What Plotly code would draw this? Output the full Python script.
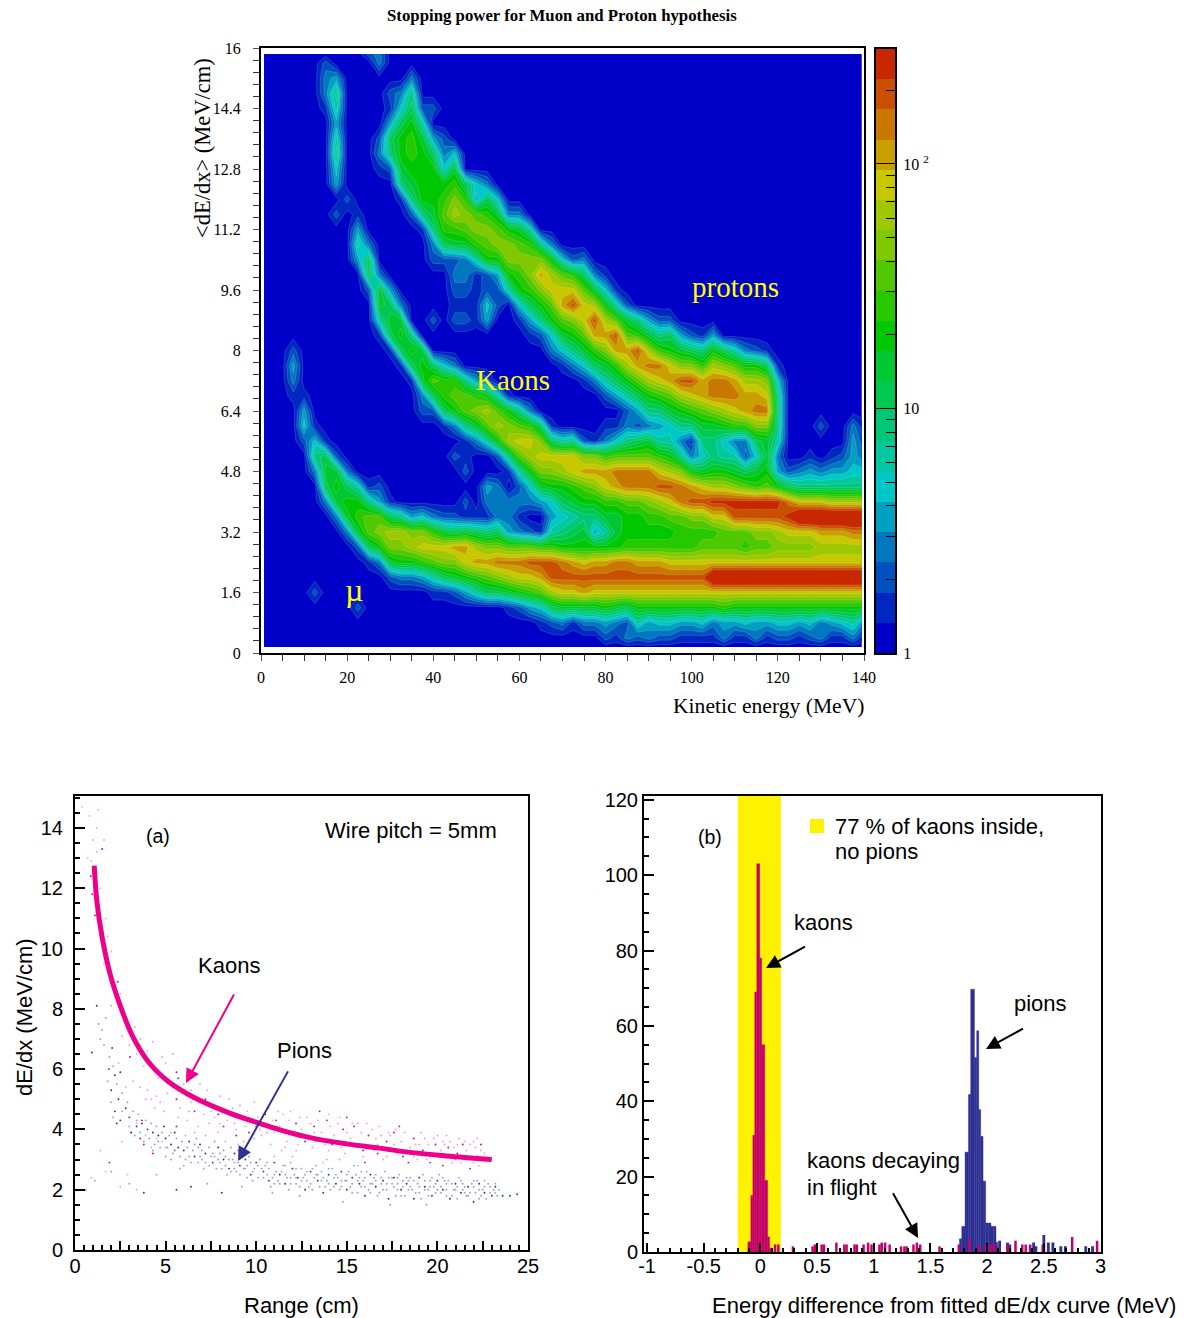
import plotly.graph_objects as go

W, H = 1188, 1318
SERIF = "Liberation Serif"
SANS = "Liberation Sans"

# ---------- top panel: contour bands (0..19+, by column) ----------
DECADE_PER_BAND = 0.1235
x_grid = [0.7] + [2.5 * i for i in range(1, 56)] + [139.5]
y_grid = [0.16] + [0.4 * j for j in range(1, 40)] + [15.84]
band_columns = {
    7.5: [(17, [1, 3, 4, 1]), (20, [2])],
    10: [(14, [2, 5, 4, 1])],
    12.5: [(4, [2]), (12, [3, 7, 5, 1])],
    15: [(10, [3, 8, 9, 8, 1]), (36, [1, 3, 3, 2])],
    17.5: [(9, [3, 9, 10, 9, 2]), (29, [2]), (31, [4, 5, 7, 6, 4, 6, 7, 4])],
    20: [(8, [3, 9, 10, 8, 3]), (30, [2])],
    22.5: [(3, [2]), (7, [2, 9, 11, 10, 6]), (26, [4, 6, 4, 1])],
    25: [(6, [1, 8, 12, 12, 7, 1]), (24, [2, 8, 8, 3]), (40, [2])],
    27.5: [(6, [3, 10, 13, 12, 4, 2]), (21, [1, 6, 9, 9, 3]), (32, [1, 3, 2]), (39, [3, 3])],
    30: [(5, [2, 9, 13, 14, 8, 1]), (20, [1, 8, 9, 8, 4]), (32, [2, 7, 8, 4, 1, 2])],
    32.5: [(5, [3, 10, 13, 14, 7]), (19, [1, 8, 10, 9, 3]), (30, [1, 7, 9, 10, 10, 8, 5, 3])],
    35: [(5, [3, 10, 14, 13, 4]), (18, [1, 8, 10, 7]), (29, [2, 7, 9, 10, 11, 11, 10, 8, 7, 3])],
    37.5: [(5, [4, 11, 15, 13, 5]), (16, [2, 3, 9, 10, 9]), (28, [1, 7, 10, 10, 10, 10, 9, 6, 2])],
    40: [(4, [1, 6, 12, 15, 11, 3]), (16, [2, 8, 12, 8]), (22, [2]), (26, [2, 3, 7, 9, 10, 10, 10, 8, 4]), (36, [2])],
    42.5: [(4, [1, 8, 13, 15, 9, 2]), (15, [1, 8, 11, 11, 5]), (26, [2, 8, 11, 12, 11, 10, 5, 3, 2])],
    45: [(4, [2, 9, 13, 16, 8, 2]), (13, [2, 0, 3, 10, 12, 11, 3]), (22, [2, 1, 2, 3, 2, 9, 11, 14, 13, 11, 9, 5])],
    47.5: [(4, [4, 10, 15, 16, 9, 1, 2]), (12, [2, 1, 1, 7, 12, 12, 7]), (22, [2, 1, 2, 3, 3, 9, 12, 13, 11, 8])],
    50: [(4, [6, 11, 16, 14, 8, 1]), (14, [3, 9, 13, 11, 4]), (22, [1, 1, 1, 1, 6, 11, 13, 12, 4, 5])],
    52.5: [(4, [8, 12, 16, 13, 7, 1, 3, 4]), (14, [6, 12, 14, 10, 2]), (22, [4, 5, 2, 2, 10, 12, 13, 11, 8, 3])],
    55: [(4, [8, 13, 17, 13, 8, 3, 3, 3, 0, 2, 10, 14, 12, 6]), (23, [2, 2, 4, 10, 13, 12, 9, 5])],
    57.5: [(3, [1, 9, 14, 17, 12, 4, 3, 3, 0, 1, 7, 14, 13, 10, 1]), (24, [6, 10, 13, 13, 10, 3])],
    60: [(3, [2, 10, 15, 17, 12, 3, 1, 3, 2, 6, 12, 15, 12, 7]), (22, [1, 5, 10, 11, 13, 12, 9, 3])],
    62.5: [(3, [4, 11, 15, 18, 12, 2, 0, 3, 5, 10, 14, 15, 11, 3]), (21, [1, 4, 8, 11, 13, 13, 11, 6])],
    65: [(2, [1, 5, 12, 16, 18, 11, 1, 0, 4, 9, 13, 15, 13, 8]), (21, [2, 7, 10, 13, 16, 13, 7])],
    67.5: [(2, [2, 8, 14, 18, 18, 11, 6, 4, 5, 10, 13, 15, 8, 1]), (20, [3, 5, 10, 12, 15, 14, 10, 3])],
    70: [(2, [3, 9, 15, 18, 17, 10, 7, 5, 8, 10, 14, 15, 6]), (19, [1, 5, 9, 12, 16, 15, 12, 5])],
    72.5: [(2, [1, 9, 15, 18, 16, 10, 8, 6, 9, 11, 15, 15, 7]), (19, [3, 7, 10, 13, 18, 15, 11, 2])],
    75: [(2, [3, 9, 16, 18, 15, 10, 9, 7, 10, 12, 16, 13, 2]), (18, [1, 5, 9, 12, 15, 15, 12, 8, 3])],
    77.5: [(2, [3, 9, 15, 18, 16, 10, 4, 7, 10, 13, 16, 13, 1]), (18, [3, 8, 11, 16, 18, 14, 9, 3])],
    80: [(1, [2, 4, 10, 15, 18, 16, 10, 6, 9, 11, 15, 16, 11, 3, 1]), (17, [2, 6, 9, 13, 16, 14, 10, 5, 1])],
    82.5: [(1, [1, 3, 9, 15, 18, 17, 10, 9, 9, 11, 16, 17, 12, 5, 1]), (17, [4, 8, 11, 16, 18, 12, 6, 1])],
    85: [(1, [3, 2, 8, 15, 18, 17, 11, 10, 10, 12, 17, 17, 12, 7, 3, 2, 6, 10, 14, 16, 12, 9, 2])],
    87.5: [(1, [2, 6, 10, 15, 18, 16, 11, 10, 10, 12, 17, 17, 12, 8, 2, 4, 8, 12, 16, 18, 11, 7])],
    90: [(1, [3, 4, 10, 15, 18, 16, 11, 10, 11, 13, 17, 17, 12, 9, 3, 7, 10, 14, 17, 14, 9, 4])],
    92.5: [(1, [2, 5, 10, 15, 18, 16, 11, 10, 11, 14, 18, 15, 11, 6, 4, 7, 11, 15, 17, 11, 7, 2])],
    95: [(1, [2, 5, 10, 15, 18, 15, 11, 10, 12, 15, 18, 14, 10, 6, 5, 9, 12, 16, 15, 10, 8, 2])],
    97.5: [(1, [1, 4, 10, 15, 18, 15, 11, 11, 12, 17, 17, 13, 7, 3, 7, 10, 14, 18, 13, 9, 4])],
    100: [(1, [1, 4, 10, 15, 18, 15, 11, 11, 13, 18, 16, 10, 3, 1, 7, 11, 15, 18, 13, 8, 2])],
    102.5: [(1, [1, 5, 10, 15, 18, 15, 12, 11, 13, 18, 15, 9, 5, 7, 9, 12, 16, 16, 11, 7, 1])],
    105: [(1, [1, 3, 10, 15, 22, 15, 12, 11, 15, 19, 14, 10, 7, 7, 9, 13, 17, 17, 14, 10, 4])],
    107.5: [(1, [3, 4, 11, 15, 22, 15, 12, 12, 15, 19, 14, 10, 6, 5, 10, 14, 17, 17, 13, 8])],
    110: [(1, [1, 4, 10, 15, 22, 15, 12, 12, 18, 19, 13, 9, 6, 3, 11, 15, 17, 16, 12, 6])],
    112.5: [(1, [1, 5, 10, 15, 22, 15, 11, 12, 18, 19, 12, 8, 2, 3, 11, 16, 16, 14, 10, 3])],
    115: [(1, [3, 4, 10, 15, 22, 15, 12, 13, 18, 19, 11, 9, 5, 8, 13, 17, 16, 14, 10, 2])],
    117.5: [(1, [1, 4, 10, 15, 22, 15, 12, 13, 18, 19, 12, 10, 9, 9, 13, 17, 15, 13, 8, 1])],
    120: [(1, [2, 5, 10, 15, 22, 15, 13, 14, 18, 19, 10, 4, 3, 6, 7, 7, 7, 5, 1])],
    122.5: [(1, [2, 5, 10, 15, 22, 15, 13, 15, 19, 17, 8, 2])],
    125: [(1, [1, 4, 10, 15, 22, 15, 13, 15, 22, 15, 7, 3])],
    127.5: [(1, [2, 5, 10, 15, 22, 15, 13, 15, 22, 15, 7, 4, 1])],
    130: [(1, [3, 3, 10, 15, 22, 15, 14, 16, 22, 15, 7, 3]), (15, [2])],
    132.5: [(1, [1, 4, 10, 15, 22, 15, 14, 16, 22, 14, 7, 4, 1])],
    135: [(1, [1, 5, 10, 15, 22, 15, 14, 16, 22, 14, 7, 4, 2])],
    137.5: [(1, [3, 6, 10, 15, 22, 15, 14, 17, 22, 14, 7, 5, 4, 4, 3])],
    140: [(1, [1, 4, 10, 15, 22, 15, 14, 17, 22, 14, 7, 5, 3, 2, 1])],
}
band_colors = ["#0000c8", "#0028c0", "#0050c0", "#0078c0", "#00a0c0", "#00c8c8", "#00c8a0",
               "#00c878", "#00c850", "#00c832", "#00c800", "#28c800", "#50c800", "#80c800",
               "#a0c800", "#c8c800", "#c8a000", "#c87800", "#c85000", "#c82800"]
y_tick_vals = [0, 1.6, 3.2, 4.8, 6.4, 8, 9.6, 11.2, 12.8, 14.4, 16]
y_tick_text = ["0", "1.6", "3.2", "4.8", "6.4", "8", "9.6", "11.2", "12.8", "14.4", "16"]
x_tick_vals = [0, 20, 40, 60, 80, 100, 120, 140]

# ---------- panel (a) ----------
curve_range = [1.06, 1.21, 1.49, 1.96, 2.5, 3.17, 4.0, 5.13, 6.6, 8.5, 10.35, 11.5, 13.1, 15.0, 16.8, 18.6, 20.5, 23.0]
curve_dedx = [12.75, 11.55, 10.4, 9.1, 8.1, 7.1, 6.28, 5.6, 5.05, 4.55, 4.17, 3.95, 3.71, 3.52, 3.38, 3.23, 3.12, 3.0]
kaon_dark = [(1.5,13.3),(0.95,11.8),(1.1,11.1),(0.87,12.4),(2.37,8.9),(3.04,6.4),(4.4,6.0),(5.6,5.9),(5.7,5.7),(6.2,5.8),
 (5.6,5.0),(6.6,4.6),(5.6,4.1),(3.8,3.5),(3.6,3.7),(4.3,3.2),(1.9,2.9),(3.7,4.3),(7.2,5.0),(8.2,4.1),(7.9,4.5),(8.9,3.8),
 (10.5,4.5),(11.1,4.3),(11.6,3.9),(12.2,4.2),(12.7,3.6),(13.2,4.1),(13.9,4.3),(14.2,3.5),(14.8,4.0),(15.4,4.1),(15.9,3.3),
 (16.2,3.8),(16.7,3.2),(17.2,3.6),(17.6,3.9),(18.1,3.1),(18.4,2.9),(18.7,3.7),(19.2,3.3),(19.6,2.9),(19.9,3.5),(20.3,2.8),
 (20.6,3.4),(21.1,3.2),(21.4,3.5),(21.8,2.7),(22.2,3.1),(22.4,3.5),(13.5,4.6),(15.0,4.4),(9.6,3.9),(10.0,4.1),(17.9,4.1),(16.0,2.9)]
kaon_pale = [(0.4,14.7),(0.8,14.4),(1.2,14.0),(1.3,14.6),(1.0,13.6),(1.6,13.6),(0.7,13.0),(1.2,13.2),(1.4,12.0),(0.9,12.9),
 (1.7,11.0),(1.8,10.4),(2.0,9.9),(1.6,9.5),(2.2,8.8),(2.5,8.5),(2.0,8.1),(2.7,7.6),(2.6,7.1),(3.3,7.4),(3.6,7.0),(3.0,6.8),
 (3.4,6.5),(4.0,6.6),(4.3,6.9),(4.8,6.4),(5.0,6.2),(5.4,6.5),(3.8,6.1),(4.6,5.7),(4.0,5.3),(3.9,5.0),(5.1,5.2),(5.4,5.4),
 (6.0,5.5),(6.4,5.3),(6.9,5.5),(7.3,5.3),(7.6,4.8),(8.0,5.1),(8.5,5.0),(8.8,4.2),(9.1,4.8),(9.5,4.6),(9.9,4.9),(10.3,3.8),
 (10.7,4.7),(11.0,3.9),(11.5,4.5),(11.9,4.6),(12.3,3.5),(12.8,4.4),(13.1,3.4),(13.6,3.9),(14.0,4.5),(14.5,4.2),(14.9,3.2),
 (15.2,3.7),(15.6,4.2),(16.0,3.5),(16.4,4.0),(16.8,4.1),(17.0,3.0),(17.4,3.8),(17.8,3.2),(18.2,3.9),(18.5,3.4),(18.9,3.0),
 (19.3,3.7),(19.7,3.2),(20.0,3.8),(20.4,3.5),(20.8,2.9),(21.2,3.7),(21.6,3.3),(22.0,3.6),(22.3,2.8),(22.6,3.2),(6.2,4.3),
 (6.8,4.1),(5.3,3.9),(4.8,3.6),(4.2,3.4),(3.1,3.9),(3.4,4.2),(7.4,4.2),(8.3,3.6),(9.3,3.6),(10.8,3.5),(11.4,3.3),(12.0,3.1),
 (13.9,3.0),(15.6,2.8),(2.9,2.5),(2.6,3.6),(1.4,3.3),(0.9,2.4),(1.7,2.6),(2.5,2.1),(3.4,2.0),(9.2,4.4),(10.1,4.4),(11.3,4.1),
 (12.5,4.0),(12.9,3.8),(14.3,3.8),(15.1,3.5),(16.3,3.4),(17.1,3.4),(18.0,3.6),(19.0,3.5),(20.2,3.3),(21.0,3.0),(21.9,3.0),
 (8.7,4.7),(7.0,4.9),(6.5,5.0),(13.3,3.6),(14.7,3.4),(16.6,3.7),(18.6,3.2),(20.7,3.6),(22.1,3.4),(11.7,3.6),(10.2,4.0),(9.4,4.1),
 (4.5,5.1),(4.9,4.6),(5.8,4.7),(6.3,4.6),(7.1,4.5),(7.7,4.4),(8.1,4.6),(8.4,4.3),(9.0,4.5),(9.7,4.3),(10.4,4.2),(10.9,4.3),(11.2,4.6),
 (11.8,4.3),(12.1,3.9),(12.4,4.4),(12.6,3.8),(13.0,4.2),(13.4,4.3),(13.8,3.5),(14.1,4.1),(14.4,3.6),(14.6,4.4),(15.0,3.9),(15.3,4.2),
 (15.5,3.4),(15.8,3.9),(16.1,4.2),(16.5,3.3),(16.9,3.8),(17.3,3.9),(17.5,3.3),(17.7,4.0),(18.3,3.3),(18.8,3.5),(19.1,3.9),(19.4,3.0),
 (19.8,3.7),(20.1,3.1),(20.5,3.8),(20.9,3.4),(21.3,2.9),(21.5,3.6),(21.7,3.1),(22.2,3.7),(22.5,3.0),(3.9,3.8),(4.5,3.7),(5.0,3.4),(5.5,3.3),
 (6.1,3.8),(6.6,3.9),(7.2,3.8),(2.8,5.4),(2.4,6.2),(3.2,5.6),(3.6,5.4),(4.4,4.7),(5.7,4.4),(7.9,3.9),(9.9,3.7),(11.0,3.1),(13.7,2.9),
 (10.6,3.9),(11.6,3.4),(12.2,3.3),(13.2,3.9),(14.0,3.3),(14.6,3.0),(15.9,3.1),(16.7,3.5),(17.2,3.1),(17.6,3.5),(18.7,3.1),(19.5,3.5),
 (20.3,3.6),(20.6,3.1),(21.1,3.5),(21.8,3.5),(22.0,2.9),(22.4,3.3),(8.9,4.0),(9.0,3.5),(7.5,4.6),(8.0,4.2),(6.4,4.9),(4.2,5.0),(4.7,4.9)]
pion_dark = [(1.2,8.1),(0.93,6.55),(2.05,6.7),(1.87,6.0),(2.2,5.8),(2.5,5.9),(2.0,5.3),(2.4,5.0),(2.2,4.6),(2.8,4.7),(2.5,4.3),
 (3.0,4.4),(2.3,4.2),(3.4,4.1),(3.1,3.9),(3.7,4.2),(4.0,4.0),(4.3,3.9),(4.6,3.8),(5.0,3.7),(4.9,4.1),(5.3,3.5),(5.7,3.4),
 (5.5,3.9),(6.0,3.3),(6.3,3.6),(6.6,3.1),(6.9,3.5),(7.2,3.2),(7.6,2.9),(7.9,3.4),(8.2,3.0),(8.5,2.7),(8.8,3.2),(9.1,2.8),
 (9.4,3.0),(9.7,2.5),(10.0,2.9),(10.4,2.6),(10.7,2.3),(11.0,2.9),(11.3,2.5),(11.6,2.2),(12.0,2.7),(12.3,2.4),(12.7,2.0),
 (13.0,2.6),(13.4,2.3),(13.7,1.9),(14.0,2.5),(14.4,2.2),(14.7,2.6),(15.0,2.0),(15.3,2.4),(15.7,2.2),(16.0,1.8),(16.3,2.5),
 (16.6,2.1),(17.0,2.3),(17.3,1.7),(17.6,2.4),(18.0,2.0),(18.3,2.2),(18.7,1.7),(19.0,2.4),(19.3,2.1),(19.7,1.8),(20.0,2.3),
 (20.3,2.0),(20.7,1.7),(21.0,2.2),(21.3,1.9),(21.7,2.1),(22.0,1.6),(22.3,2.2),(22.6,1.9),(23.0,1.8),(23.2,2.1),(23.6,1.8),
 (24.0,1.8),(24.4,1.85),(5.6,2.0),(3.8,1.9),(6.4,2.1),(8.1,1.9)]
pion_pale = [(1.3,7.5),(1.5,7.3),(1.7,7.7),(1.4,7.0),(1.6,6.8),(1.9,6.4),(2.1,6.1),(2.3,5.5),(1.8,5.6),(2.6,5.2),(2.0,4.9),(2.9,4.9),
 (2.1,4.4),(2.6,4.6),(3.2,4.6),(3.5,4.5),(3.0,4.1),(3.3,3.8),(3.6,3.9),(3.9,4.3),(4.2,4.2),(4.5,4.1),(4.8,3.9),(4.1,3.7),(4.4,3.5),
 (4.7,3.4),(5.1,3.4),(5.4,3.2),(5.2,3.8),(5.6,3.7),(5.9,3.6),(6.1,3.0),(6.2,3.4),(6.5,3.3),(6.8,2.9),(7.0,3.3),(7.1,2.7),(7.4,3.4),
 (7.5,3.1),(7.8,2.7),(8.0,3.2),(8.3,2.8),(8.4,2.5),(8.7,3.0),(8.9,2.6),(9.0,3.3),(9.3,2.7),(9.5,2.4),(9.6,3.1),(9.9,2.7),(10.1,2.4),
 (10.2,3.0),(10.5,2.8),(10.6,2.5),(10.8,2.1),(11.1,2.6),(11.2,2.3),(11.5,2.8),(11.7,2.4),(11.8,2.0),(12.1,2.5),(12.2,2.2),(12.5,2.7),
 (12.6,2.4),(12.9,2.1),(13.1,2.7),(13.2,2.4),(13.5,2.1),(13.6,2.6),(13.9,2.3),(14.1,2.0),(14.2,2.7),(14.5,2.4),(14.6,2.0),(14.9,2.3),
 (15.1,2.6),(15.2,2.1),(15.5,2.5),(15.6,1.9),(15.9,2.3),(16.1,2.6),(16.2,2.0),(16.5,2.4),(16.7,1.8),(16.9,2.2),(17.1,2.6),(17.2,2.0),
 (17.5,2.2),(17.7,1.8),(17.9,2.5),(18.1,2.1),(18.2,1.8),(18.5,2.4),(18.6,2.0),(18.9,2.2),(19.1,1.7),(19.2,2.5),(19.5,2.0),(19.6,2.3),
 (19.9,1.9),(20.1,2.5),(20.2,2.1),(20.5,1.8),(20.6,2.3),(20.9,2.0),(21.1,1.7),(21.2,2.4),(21.5,2.1),(21.6,1.8),(21.9,2.2),(22.1,1.9),
 (22.2,2.3),(22.5,2.0),(22.7,1.7),(22.8,2.2),(23.1,2.0),(23.3,1.8),(23.4,2.0),(0.6,2.0),(1.1,2.3),(2.0,2.6),(3.0,2.2),(4.5,2.5),(5.8,2.7),
 (7.3,2.2),(9.2,2.1),(10.9,1.9),(12.4,1.8),(14.8,1.6),(17.4,1.5),(19.4,1.5),(6.7,3.7),(7.7,3.6),(8.6,3.4),(5.0,3.1),(6.0,2.8),(11.9,2.9),
 (13.3,2.8),(15.4,2.8),(16.4,2.2),(18.4,2.3),(20.4,2.3),(21.4,2.2),(22.4,1.8),(12.8,2.3),(14.3,2.4),(15.8,2.1),(17.8,2.0),(19.8,2.1),
 (3.4,4.3),(3.8,3.6),(4.3,3.3),(4.6,3.6),(5.3,3.0),(5.5,3.3),(5.8,3.1),(6.4,2.9),(6.6,3.5),(6.9,3.1),(7.2,2.9),(7.6,3.2),(7.9,3.0),(8.1,2.7),
 (8.3,3.1),(8.6,2.6),(8.8,2.9),(9.1,2.5),(9.4,2.7),(9.7,2.9),(9.8,2.3),(10.3,2.7),(10.6,2.9),(10.9,2.4),(11.0,2.2),(11.4,2.6),(11.6,2.8),
 (11.9,2.4),(12.2,2.7),(12.4,2.1),(12.7,2.5),(13.0,2.2),(13.3,2.5),(13.6,2.3),(13.8,2.1),(14.0,2.7),(14.3,2.1),(14.7,2.3),(15.0,2.5),(15.3,1.9),
 (15.6,2.3),(15.8,2.6),(16.0,2.1),(16.3,2.2),(16.6,2.5),(16.8,1.9),(17.0,2.0),(17.3,2.4),(17.6,2.1),(17.8,2.4),(18.0,1.8),(18.3,2.4),(18.5,2.1),
 (18.8,1.9),(19.0,2.1),(19.3,2.3),(19.5,1.8),(19.7,2.4),(20.0,2.0),(20.3,2.4),(20.5,2.2),(20.8,1.8),(21.0,2.0),(21.3,2.3),(21.5,1.9),(21.8,1.9),
 (22.0,2.3),(22.3,1.7),(22.6,2.1),(22.9,1.9),(23.2,1.9),
 (6.3,3.1),(6.8,3.4),(7.0,3.0),(7.4,2.8),(7.7,3.1),(8.0,2.9),(8.2,3.3),(8.5,3.0),(8.8,2.7),(9.0,2.9),(9.3,3.1),(9.5,2.8),(9.8,2.6),(10.1,2.8),
 (10.4,2.4),(10.7,2.7),(11.0,2.5),(11.3,2.2),(11.6,2.5),(11.9,2.2),(12.2,2.4),(12.5,2.3),(12.8,2.6),(13.1,2.0),(13.4,2.5),(13.7,2.4),(14.0,2.2),
 (14.4,2.5),(14.7,2.1),(15.0,2.3),(15.3,2.2),(15.7,2.4),(16.0,2.4),(16.3,1.9),(16.6,2.3),(16.9,2.4),(17.2,2.2),(17.5,2.4),(17.8,2.2),(18.1,2.3),
 (18.4,2.0),(18.7,2.3),(19.0,1.9),(19.3,2.0),(19.6,2.1),(19.9,2.2),(20.2,1.9),(20.5,2.0),(20.8,2.2),(21.1,2.1),(21.4,2.0),(21.7,1.8),(22.0,2.1),
 (22.3,2.0),(22.6,2.3),(22.9,2.1),(23.2,2.2)]

# ---------- panel (b) ----------
kaon_edges = [-0.111, -0.085, -0.067, -0.05, -0.032, -0.006, 0.011, 0.038, 0.064, 0.081, 0.1]
kaon_counts = [2.7, 15, 31, 69, 103, 78, 55, 19, 4, 1]
pion_edges = [1.756, 1.776, 1.805, 1.835, 1.855, 1.888, 1.908, 1.926, 1.943, 1.964, 1.987, 2.01, 2.034, 2.054, 2.078, 2.092]
pion_counts = [3.5, 6.8, 26.5, 41.8, 69.7, 51.6, 58.7, 37.8, 30.7, 18.8, 7.7, 7.7, 6.8, 6.8, 2.6]
tail_kaon_x = [0.129, 0.158, 0.287, 0.46, 0.48, 0.54, 0.56, 0.67, 0.74, 0.76, 0.83, 0.85, 0.91, 0.95, 0.98, 1.05, 1.07,
               1.1, 1.14, 1.24, 1.27, 1.29, 1.35, 1.38, 1.41, 1.58, 1.75, 1.84, 1.93, 1.99, 2.03, 2.06, 2.1, 2.18, 2.25,
               2.31, 2.34, 2.38, 2.49, 2.75, 2.97]
tail_kaon_h = [2, 2, 1.5, 1.5, 2, 2, 2, 2.5, 2, 2, 2, 2, 2, 2.5, 2, 2, 2.5,
               2.5, 2, 1.5, 1.5, 1.5, 2, 2.5, 2, 1.5, 2, 3.5, 2, 2, 2, 2, 1.5, 2, 3,
               2, 2, 2, 2, 4, 3]
tail_pion_x = [2.11, 2.18, 2.2, 2.41, 2.43, 2.5, 2.54, 2.58, 2.65, 2.69, 2.87, 2.93]
tail_pion_h = [3, 2.5, 2, 2.5, 1.5, 4.5, 2.5, 2.5, 1.5, 1.5, 1.5, 1.5]
yellow_window = (-0.2, 0.18)


def dom(a, b, total):
    return [a / total, b / total]


def ydom(top, bottom):
    return [1 - bottom / H, 1 - top / H]


def centers(edges):
    return [(edges[i] + edges[i + 1]) / 2 for i in range(len(edges) - 1)]


def widths(edges):
    return [edges[i + 1] - edges[i] for i in range(len(edges) - 1)]


bands = [[0 for _ in x_grid] for _ in y_grid]
for col_x, segments in band_columns.items():
    col = int(round(col_x / 2.5))
    for first, values in segments:
        for k, v in enumerate(values):
            bands[first + k][col] = v
log_counts = [[(v + 0.5) * DECADE_PER_BAND for v in row] for row in bands]

zmax = 20 * DECADE_PER_BAND
stepped = []
for k, c in enumerate(band_colors):
    stepped += [[k / 20, c], [(k + 1) / 20, c]]

fig = go.Figure()
fig.add_trace(go.Contour(
    x=x_grid, y=y_grid, z=log_counts, xaxis="x", yaxis="y", colorscale=stepped, zmin=0, zmax=zmax,
    autocontour=False, showscale=False,
    contours=dict(start=DECADE_PER_BAND, end=19 * DECADE_PER_BAND, size=DECADE_PER_BAND, coloring="fill"),
    line=dict(color="rgba(255,255,255,0.22)", width=0.7, smoothing=0),
))
bar_edges = [i * DECADE_PER_BAND for i in range(21)]
fig.add_trace(go.Heatmap(
    x=[0, 1], y=bar_edges, z=[[i * DECADE_PER_BAND + DECADE_PER_BAND / 2] for i in range(20)],
    xaxis="x2", yaxis="y2", colorscale=stepped, zmin=0, zmax=zmax, showscale=False,
))

fig.add_trace(go.Scatter(x=[p[0] for p in kaon_pale], y=[p[1] for p in kaon_pale], mode="markers", xaxis="x3", yaxis="y3",
                         marker=dict(size=1.9, color="rgba(240,120,190,0.7)", line=dict(width=0)), showlegend=False))
fig.add_trace(go.Scatter(x=[p[0] for p in kaon_dark], y=[p[1] for p in kaon_dark], mode="markers", xaxis="x3", yaxis="y3",
                         marker=dict(size=1.9, color="#e6007e", line=dict(width=0)), showlegend=False))
fig.add_trace(go.Scatter(x=[p[0] for p in pion_pale], y=[p[1] for p in pion_pale], mode="markers", xaxis="x3", yaxis="y3",
                         marker=dict(size=1.9, color="rgba(110,115,190,0.7)", line=dict(width=0)), showlegend=False))
fig.add_trace(go.Scatter(x=[p[0] for p in pion_dark], y=[p[1] for p in pion_dark], mode="markers", xaxis="x3", yaxis="y3",
                         marker=dict(size=1.9, color="#2e3192", line=dict(width=0)), showlegend=False))
fig.add_trace(go.Scatter(x=curve_range, y=curve_dedx, mode="lines", xaxis="x3", yaxis="y3",
                         line=dict(color="#ec008c", width=5, shape="spline"), showlegend=False))

bar_line_b = dict(color="#2e3192", width=0.4)
bar_line_k = dict(color="#c4006c", width=0.4)
fig.add_trace(go.Bar(x=centers(pion_edges), y=pion_counts, width=widths(pion_edges), xaxis="x4", yaxis="y4",
                     marker=dict(color="#2e3192", line=bar_line_b), showlegend=False))
fig.add_trace(go.Bar(x=tail_pion_x, y=tail_pion_h, width=0.025, xaxis="x4", yaxis="y4",
                     marker=dict(color="#2e3192", line=dict(width=0)), showlegend=False))
fig.add_trace(go.Bar(x=centers(kaon_edges), y=kaon_counts, width=widths(kaon_edges), xaxis="x4", yaxis="y4",
                     marker=dict(color="#c4006c", line=bar_line_k), showlegend=False))
fig.add_trace(go.Bar(x=tail_kaon_x, y=tail_kaon_h, width=0.022, xaxis="x4", yaxis="y4",
                     marker=dict(color="#c4006c", line=dict(width=0)), showlegend=False))

serif_tick = dict(family=SERIF, size=16, color="black")
sans_tick = dict(family=SANS, size=20, color="black")
frame = dict(showline=True, mirror=True, linecolor="black", showgrid=False, zeroline=False, automargin=False)

annotations = []


def label(px, py, text, size, family=SANS, color="black", anchor="center", angle=0, bold=False):
    if bold:
        text = "<b>" + text + "</b>"
    annotations.append(dict(x=px / W, y=1 - py / H, xref="paper", yref="paper", text=text, showarrow=False,
                            xanchor=anchor, yanchor="middle", textangle=angle,
                            font=dict(family=family, size=size, color=color)))


def arrow(tail, tip, color, width=2):
    annotations.append(dict(x=tip[0] / W, y=1 - tip[1] / H, xref="paper", yref="paper", text=" ",
                            ax=tail[0] - tip[0], ay=tail[1] - tip[1], axref="pixel", ayref="pixel",
                            showarrow=True, arrowhead=2, arrowsize=1.4, arrowwidth=width, arrowcolor=color))


label(562, 16, "Stopping power for Muon and Proton hypothesis", 16.8, SERIF, bold=True)
label(203, 148, "&lt;dE/dx&gt; (MeV/cm)", 22.5, SERIF, angle=-90)
label(866, 706, "Kinetic energy (MeV)", 21.6, SERIF, anchor="right")
label(735, 287, "protons", 29, SERIF, "#ffff00")
label(513, 380, "Kaons", 29, SERIF, "#ffff00")
label(354, 590, "µ", 32, SERIF, "#ffff00")

label(158, 836, "(a)", 19.5)
label(411, 830, "Wire pitch = 5mm", 22)
label(229, 965, "Kaons", 22)
label(304, 1050, "Pions", 22)
arrow((237, 989), (186, 1083), "#ec008c")
arrow((291, 1066), (238, 1161), "#2e3192")
label(301, 1305, "Range (cm)", 22)
label(24, 1017, "dE/dx (MeV/cm)", 22, angle=-90)

label(710, 837, "(b)", 19.5)
label(833, 826, "77 % of kaons inside,", 22, anchor="left")
label(833, 852, "no pions", 22, anchor="left")
label(824, 922, "kaons", 22)
label(1040, 1003, "pions", 22)
label(805, 1160, "kaons decaying", 22, anchor="left")
label(805, 1187, "in flight", 22, anchor="left")
arrow((808, 945), (766, 968), "black")
arrow((1026, 1027), (986, 1049), "black")
arrow((890, 1188), (918, 1238), "black")
label(944, 1305, "Energy difference from fitted dE/dx curve (MeV)", 22)

shapes = [
    dict(type="rect", xref="x4", yref="y4 domain", x0=yellow_window[0], x1=yellow_window[1], y0=0, y1=1,
         fillcolor="#fff200", line=dict(width=0), layer="below"),
    dict(type="rect", xref="paper", yref="paper", x0=810 / W, x1=824 / W, y0=1 - 833 / H, y1=1 - 819 / H,
         fillcolor="#fff200", line=dict(width=0)),
]

minor_cb = [0.30103, 0.47712, 0.60206, 0.69897, 0.77815, 0.84510, 0.90309, 0.95424,
            1.30103, 1.47712, 1.60206, 1.69897, 1.77815, 1.84510, 1.90309, 1.95424, 2.30103]

fig.update_layout(
    template="none",
    width=W, height=H, autosize=False, margin=dict(l=0, r=0, t=0, b=0, pad=0), paper_bgcolor="white", plot_bgcolor="white",
    barmode="overlay", showlegend=False, annotations=annotations, shapes=shapes,
    xaxis=dict(domain=dom(261, 864, W), range=[0, 140], anchor="y", tickvals=x_tick_vals, ticks="outside", ticklen=6,
               tickcolor="#555555", tickfont=serif_tick, linewidth=2, ticklabelstandoff=3,
               minor=dict(tickmode="linear", tick0=0, dtick=5, ticks="outside", ticklen=6, tickcolor="#333333"), **frame),
    yaxis=dict(domain=ydom(48, 653), range=[0, 16], anchor="x", tickvals=y_tick_vals, ticktext=y_tick_text, ticks="outside",
               ticklen=6, tickcolor="#555555", tickfont=serif_tick, linewidth=2, ticklabelstandoff=9,
               minor=dict(tickmode="linear", tick0=0, dtick=0.32, ticks="outside", ticklen=6, tickcolor="#333333"), **frame),
    xaxis2=dict(domain=dom(876, 895, W), range=[0, 1], anchor="y2", showticklabels=False, ticks="", **frame, linewidth=2),
    yaxis2=dict(domain=ydom(49, 653), range=[0, zmax], anchor="x2", side="right", tickvals=[0, 1, 2],
                ticktext=["1", "10", "10 <sup>2</sup>"], ticks="inside", ticklen=19, tickcolor="black", tickwidth=1,
                tickfont=serif_tick, linewidth=2, ticklabelstandoff=3,
                minor=dict(tickvals=minor_cb, ticks="inside", ticklen=9, tickcolor="black", tickwidth=1), **frame),
    xaxis3=dict(domain=dom(75, 528, W), range=[0, 25], anchor="y3", tickvals=[0, 2.5, 5, 7.5, 10, 12.5, 15, 17.5, 20, 22.5, 25],
                ticktext=["0", "", "5", "", "10", "", "15", "", "20", "", "25"], ticks="inside", ticklen=9, tickwidth=2,
                tickcolor="black", tickfont=sans_tick, linewidth=2, ticklabelstandoff=-3,
                minor=dict(tickmode="linear", tick0=0, dtick=0.5, ticks="inside", ticklen=5, tickwidth=1.5, tickcolor="black"), **frame),
    yaxis3=dict(domain=ydom(796, 1250), range=[0, 15.06], anchor="x3", tickvals=[0, 2, 4, 6, 8, 10, 12, 14], ticks="inside",
                ticklen=10, tickwidth=2, tickcolor="black", tickfont=sans_tick, linewidth=2, ticklabelstandoff=6,
                minor=dict(tickmode="linear", tick0=0, dtick=0.5, ticks="inside", ticklen=5, tickwidth=1.5, tickcolor="black"), **frame),
    xaxis4=dict(domain=dom(644, 1100.5, W), range=[-1.027, 3], anchor="y4", tickvals=[-1, -0.5, 0, 0.5, 1, 1.5, 2, 2.5, 3],
                ticktext=["-1", "-0.5", "0", "0.5", "1", "1.5", "2", "2.5", "3"], ticks="inside", ticklen=9, tickwidth=2,
                tickcolor="black", tickfont=sans_tick, linewidth=2, ticklabelstandoff=-5,
                minor=dict(tickmode="linear", tick0=-1, dtick=0.1, ticks="inside", ticklen=4, tickwidth=1.5, tickcolor="black"), **frame),
    yaxis4=dict(domain=ydom(796, 1252), range=[0, 121], anchor="x4", tickvals=[0, 20, 40, 60, 80, 100, 120], ticks="inside",
                ticklen=10, tickwidth=2, tickcolor="black", tickfont=sans_tick, linewidth=2,
                minor=dict(tickmode="linear", tick0=0, dtick=5, ticks="inside", ticklen=5, tickwidth=1.5, tickcolor="black"), **frame),
)

fig.write_html("out.html", post_script="document.body.style.margin='0';", config={"displayModeBar": False})
